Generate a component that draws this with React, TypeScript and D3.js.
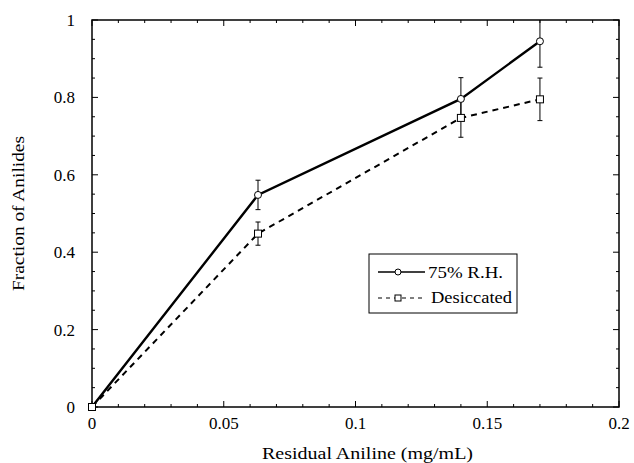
import React from 'react';
import * as d3 from 'd3';

// data
const xValues = [0, 0.063, 0.14, 0.17];
const humidValues = [0, 0.548, 0.796, 0.945];
const humidErrors = [0, 0.038, 0.055, 0.067];
const dryValues = [0, 0.448, 0.747, 0.795];
const dryErrors = [0, 0.03, 0.05, 0.055];
const xTicks = [0, 0.05, 0.1, 0.15, 0.2];
const yTicks = [0, 0.2, 0.4, 0.6, 0.8, 1];

const W = 634;
const H = 463;
const margin = { top: 20, right: 15, bottom: 56, left: 92 };
const font = '"Liberation Serif", "Times New Roman", serif';

function App() {
  const x = d3.scaleLinear().domain([0, 0.2]).range([margin.left, W - margin.right]);
  const y = d3.scaleLinear().domain([0, 1]).range([H - margin.bottom, margin.top]);

  const line = d3.line<number>()
    .x((d, i) => x(xValues[i]))
    .y(d => y(d));

  const xMinor = d3.range(0, 0.2001, 0.01);
  const yMinor = d3.range(0, 1.0001, 0.05);
  const x0 = x(0), x1 = x(0.2), y0 = y(0), y1 = y(1);

  const series = [
    { values: humidValues, errors: humidErrors, dash: undefined, marker: 'circle', label: '75% R.H.' },
    { values: dryValues, errors: dryErrors, dash: '6,5', marker: 'square', label: 'Desiccated' },
  ];

  const legendX = 369, legendY = 254;

  return (
    <svg width={W} height={H} style={{ position: 'absolute', left: 0, top: 0, background: '#fff' }}>
      <defs>
        <clipPath id="plot">
          <rect x={x0} y={y1} width={x1 - x0} height={y0 - y1} />
        </clipPath>
      </defs>
      {/* frame */}
      <rect x={x0} y={y1} width={x1 - x0} height={y0 - y1} fill="none" stroke="#000" strokeWidth={1.5} />

      {/* ticks, inward on all four sides */}
      {xMinor.map((t, i) => {
        const major = i % 5 === 0;
        const len = major ? 6 : 3;
        return (
          <g key={'xt' + i} stroke="#000" strokeWidth={1}>
            <line x1={x(t)} x2={x(t)} y1={y0} y2={y0 - len} />
            <line x1={x(t)} x2={x(t)} y1={y1} y2={y1 + len} />
          </g>
        );
      })}
      {yMinor.map((t, i) => {
        const major = i % 4 === 0;
        const len = major ? 6 : 3;
        return (
          <g key={'yt' + i} stroke="#000" strokeWidth={1}>
            <line x1={x0} x2={x0 + len} y1={y(t)} y2={y(t)} />
            <line x1={x1} x2={x1 - len} y1={y(t)} y2={y(t)} />
          </g>
        );
      })}

      {/* tick labels */}
      {xTicks.map(t => (
        <text key={'xl' + t} x={x(t)} y={y0 + 22} textAnchor="middle" fontFamily={font} fontSize={17}>
          {String(t)}
        </text>
      ))}
      {yTicks.map(t => (
        <text key={'yl' + t} x={x0 - 17} y={y(t) + 6} textAnchor="end" fontFamily={font} fontSize={17}>
          {String(t)}
        </text>
      ))}

      {/* axis titles */}
      <text x={262} y={459} textLength={211} lengthAdjust="spacingAndGlyphs" fontFamily={font} fontSize={17}>
        Residual Aniline (mg/mL)
      </text>
      <text transform={`translate(24, 291) rotate(-90)`} textLength={155} lengthAdjust="spacingAndGlyphs"
        fontFamily={font} fontSize={17}>
        Fraction of Anilides
      </text>

      {/* series */}
      <g clipPath="url(#plot)">
        {series.map((s, si) => (
          <g key={'s' + si}>
            <path d={line(s.values) || ''} fill="none" stroke="#000" strokeWidth={si === 0 ? 2.4 : 2} strokeDasharray={s.dash} />
            {s.values.map((v, i) => s.errors[i] > 0 && (
              <g key={'e' + i} stroke="#000" strokeWidth={1}>
                <line x1={x(xValues[i])} x2={x(xValues[i])} y1={y(v - s.errors[i])} y2={y(v + s.errors[i])} />
                <line x1={x(xValues[i]) - 2.5} x2={x(xValues[i]) + 2.5} y1={y(v - s.errors[i])} y2={y(v - s.errors[i])} />
                <line x1={x(xValues[i]) - 2.5} x2={x(xValues[i]) + 2.5} y1={y(v + s.errors[i])} y2={y(v + s.errors[i])} />
              </g>
            ))}
          </g>
        ))}
      </g>
      {series.map((s, si) => s.values.map((v, i) => s.marker === 'circle'
        ? <circle key={'m' + si + i} cx={x(xValues[i])} cy={y(v)} r={3.5} fill="#fff" stroke="#000" strokeWidth={1} />
        : <rect key={'m' + si + i} x={x(xValues[i]) - 3.5} y={y(v) - 3.5} width={7} height={7} fill="#fff" stroke="#000" strokeWidth={1} />
      ))}

      {/* legend */}
      <rect x={legendX} y={legendY} width={148} height={59} fill="#fff" stroke="#000" strokeWidth={1} />
      <line x1={legendX + 9} x2={legendX + 56} y1={legendY + 18} y2={legendY + 18} stroke="#000" strokeWidth={1.6} />
      <circle cx={legendX + 29} cy={legendY + 18} r={3} fill="#fff" stroke="#000" strokeWidth={1} />
      <text x={legendX + 59} y={legendY + 24} textLength={75} lengthAdjust="spacingAndGlyphs" fontFamily={font} fontSize={17}>
        75% R.H.
      </text>
      <line x1={legendX + 9} x2={legendX + 56} y1={legendY + 44} y2={legendY + 44} stroke="#000" strokeWidth={1.2} strokeDasharray="4,4" />
      <rect x={legendX + 26} y={legendY + 41} width={6} height={6} fill="#fff" stroke="#000" strokeWidth={1} />
      <text x={legendX + 62} y={legendY + 49} textLength={81} lengthAdjust="spacingAndGlyphs" fontFamily={font} fontSize={17}>
        Desiccated
      </text>
    </svg>
  );
}

export default App;
